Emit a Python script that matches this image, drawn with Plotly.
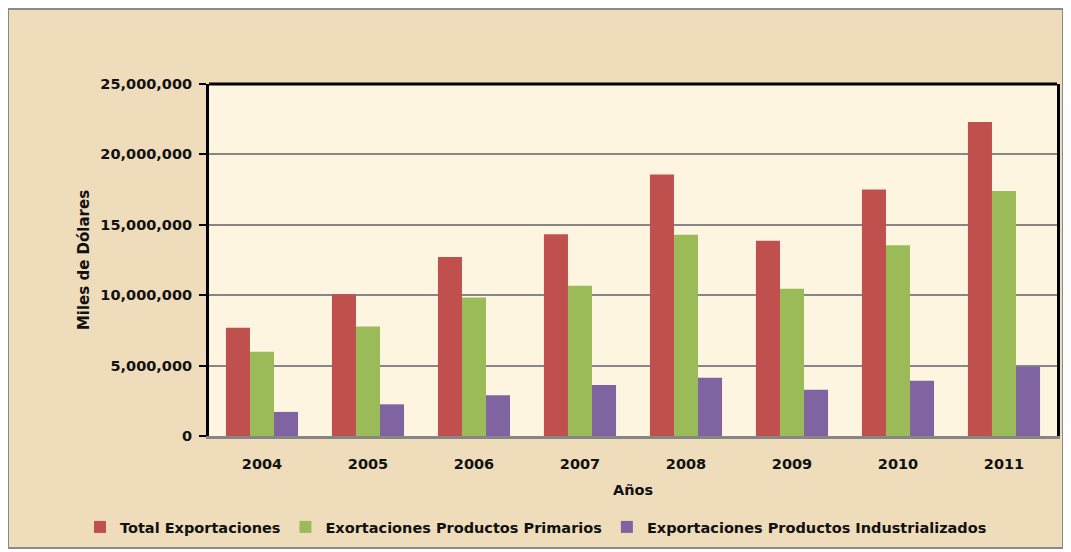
import plotly.graph_objects as go

years = ["2004", "2005", "2006", "2007", "2008", "2009", "2010", "2011"]
total = [7690000, 10060000, 12720000, 14320000, 18570000, 13870000, 17500000, 22310000]
primarios = [5980000, 7780000, 9830000, 10680000, 14300000, 10450000, 13550000, 17400000]
industrializados = [1710000, 2250000, 2890000, 3630000, 4130000, 3280000, 3920000, 4910000]

names = ["Total Exportaciones", "Exortaciones Productos Primarios",
         "Exportaciones Productos Industrializados"]
colors = ["#c0504d", "#9bbb59", "#8064a2"]

FONT = "DejaVu Sans"

fig = go.Figure()
for vals, name, col in zip([total, primarios, industrializados], names, colors):
    fig.add_trace(go.Bar(x=years, y=vals, name=name, marker_color=col,
                         marker_line_width=0))

# page is rendered with an 8px body margin: figure pixel = page pixel - 8
OFF = 8
W, H = 1071, 552
L, T = 209 - OFF, 84 - OFF
R = W - (1057 - OFF)
B = H - (436 - OFF)
pw, ph = W - L - R, H - T - B


def px(x):
    return (x - OFF - L) / pw


def py(y):
    return (H - B - (y - OFF)) / ph


TXT = "#111111"

fig.update_layout(
    width=W, height=H,
    margin=dict(l=L, r=R, t=T, b=B),
    paper_bgcolor="white",
    plot_bgcolor="rgba(0,0,0,0)",
    barmode="group",
    bargap=0.32,
    bargroupgap=0,
    font=dict(family=FONT, color=TXT),
    shapes=[
        dict(type="rect", xref="paper", yref="paper", x0=px(8), x1=px(1063),
             y0=py(548), y1=py(9), fillcolor="#eedcba",
             line=dict(color="#8a8a8a", width=2), layer="below"),
        dict(type="rect", xref="paper", yref="paper", x0=0, x1=1, y0=0, y1=1,
             fillcolor="#fdf5e0", line=dict(width=0), layer="below"),
        dict(type="line", xref="paper", yref="paper", x0=0, x1=1, y0=1, y1=1,
             line=dict(color="black", width=3)),
    ],
    legend=dict(orientation="h",
                x=px(80), xanchor="left",
                y=py(527), yanchor="middle",
                bgcolor="rgba(0,0,0,0)",
                font=dict(family=FONT, size=14.5, color=TXT, weight="bold"),
                itemwidth=30, traceorder="normal"),
)

fig.update_xaxes(
    showgrid=False, showline=True, linecolor="#868686", linewidth=3,
    tickfont=dict(family=FONT, size=14.5, weight="bold", color=TXT),
    ticks="", ticklabelstandoff=13,
    title=dict(text="Años", font=dict(family=FONT, size=14.5, weight="bold",
                                       color=TXT), standoff=14),
)
fig.update_yaxes(
    range=[0, 25000000], dtick=5000000, tickformat=",d",
    showgrid=True, gridcolor="#868686", gridwidth=2,
    showline=True, linecolor="black", linewidth=3, mirror=True,
    ticks="outside", ticklen=7, tickcolor="black", tickwidth=2,
    tickfont=dict(family=FONT, size=14.5, weight="bold", color=TXT),
    ticklabelstandoff=4,
    zeroline=False,
    title=dict(text="Miles de Dólares", font=dict(family=FONT, size=15, weight="bold",
                                                  color=TXT), standoff=8),
)

fig.write_html("out.html")
